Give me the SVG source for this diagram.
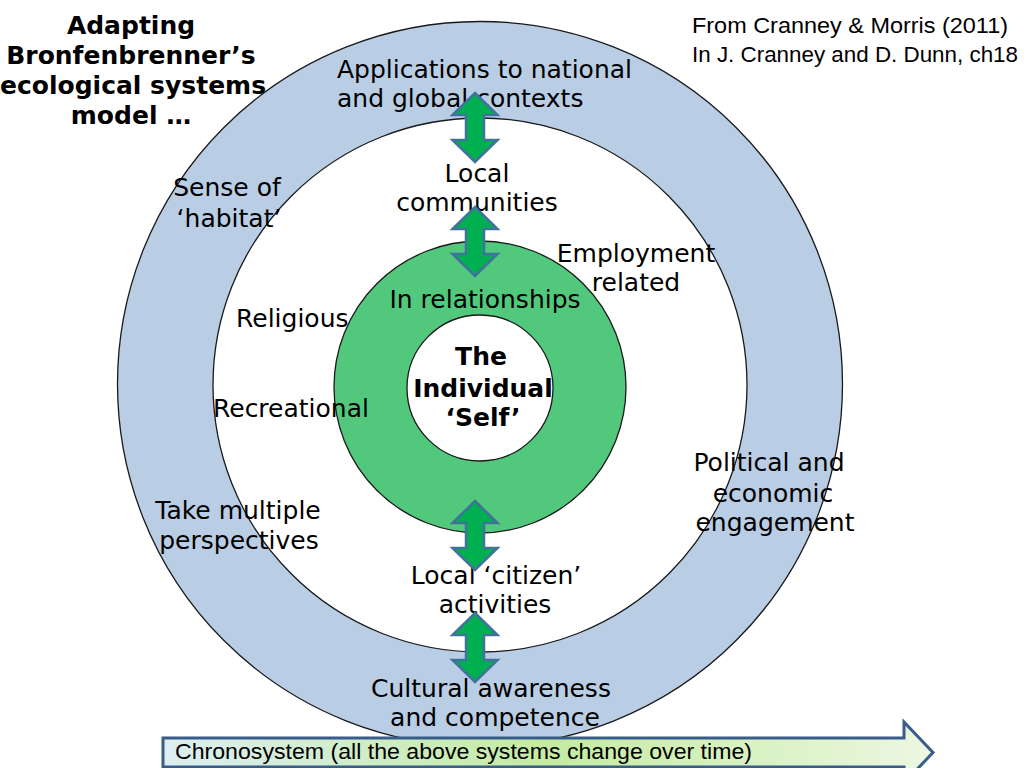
<svg xmlns="http://www.w3.org/2000/svg" xmlns:xlink="http://www.w3.org/1999/xlink" width="1024" height="768" viewBox="0 0 1024 768">
<style>
.lbl{font-family:"DejaVu Sans",Verdana,sans-serif;font-size:25px;fill:#000}
.b{font-weight:bold}
.m{text-anchor:middle}
.cal{font-family:"Liberation Sans",Arial,sans-serif;font-size:22px;fill:#000}
.ring{stroke:#1a1a1a;stroke-width:1.3}
.dbl{fill:#00B050;stroke:#41719C;stroke-width:2.5;stroke-linejoin:miter}
</style>
<defs>
<path id="dArrow" class="dbl" d="M0,0 L22.5,22 L9,22 L9,47 L22.5,47 L0,69 L-22.5,47 L-9,47 L-9,22 L-22.5,22 Z"/>
<linearGradient id="chronoGrad" x1="0" y1="0" x2="1" y2="0">
<stop offset="0" stop-color="#DCEFF2"/>
<stop offset="0.5" stop-color="#C4EBA0"/>
<stop offset="1" stop-color="#ECF7E2"/>
</linearGradient>
</defs>
<rect width="1024" height="768" fill="#ffffff"/>

<g id="macrosystem">
<circle class="ring" cx="480" cy="384" r="362.5" fill="#B9CDE5"/>
</g>
<g id="exosystem">
<circle class="ring" cx="480" cy="385" r="267" fill="#ffffff"/>
</g>
<g id="microsystem">
<circle class="ring" cx="480" cy="387" r="146" fill="#52C87D"/>
</g>
<g id="self">
<circle class="ring" cx="480" cy="388" r="73" fill="#ffffff"/>
</g>

<g id="title">
<text class="lbl b m" x="131" y="34">Adapting</text>
<text class="lbl b m" x="131" y="64">Bronfenbrenner’s</text>
<text class="lbl b m" x="133" y="94">ecological systems</text>
<text class="lbl b m" x="131" y="124">model …</text>
</g>

<g id="source">
<text class="cal" x="692" y="33" textLength="316" lengthAdjust="spacingAndGlyphs">From Cranney &amp; Morris (2011)</text>
<text class="cal" x="692" y="62" textLength="326" lengthAdjust="spacingAndGlyphs">In J. Cranney and D. Dunn, ch18</text>
</g>

<g id="labels">
<text class="lbl" x="337" y="78">Applications to national</text>
<text class="lbl" x="337" y="107">and global contexts</text>
<text class="lbl m" x="477" y="182">Local</text>
<text class="lbl m" x="477" y="211">communities</text>
<text class="lbl m" x="227" y="196">Sense of</text>
<text class="lbl m" x="229" y="227">‘habitat’</text>
<text class="lbl m" x="636" y="262">Employment</text>
<text class="lbl m" x="636" y="291">related</text>
<text class="lbl m" x="485" y="308">In relationships</text>
<text class="lbl" x="236" y="327">Religious</text>
<text class="lbl" x="213" y="417">Recreational</text>
<text class="lbl b m" x="481" y="365">The</text>
<text class="lbl b m" x="483" y="397">Individual</text>
<text class="lbl b m" x="483" y="426">‘Self’</text>
<text class="lbl m" x="769" y="471">Political and</text>
<text class="lbl m" x="773" y="502">economic</text>
<text class="lbl m" x="775" y="531">engagement</text>
<text class="lbl m" x="238" y="519">Take multiple</text>
<text class="lbl m" x="239" y="549">perspectives</text>
<text class="lbl m" x="496" y="584">Local ‘citizen’</text>
<text class="lbl m" x="495" y="613">activities</text>
<text class="lbl m" x="491" y="697">Cultural awareness</text>
<text class="lbl m" x="495" y="726">and competence</text>
</g>

<g id="connectors">
<use xlink:href="#dArrow" href="#dArrow" x="475" y="93"/>
<use xlink:href="#dArrow" href="#dArrow" x="475" y="207"/>
<use xlink:href="#dArrow" href="#dArrow" x="475" y="501"/>
<use xlink:href="#dArrow" href="#dArrow" x="475" y="613"/>
</g>

<g id="chronosystem">
<path d="M163,738 L904,738 L904,722 L933,752.5 L904,783 L904,767 L163,767 Z" fill="url(#chronoGrad)" stroke="#385D8A" stroke-width="3" stroke-linejoin="miter"/>
<text class="cal" x="175" y="759" textLength="577" lengthAdjust="spacingAndGlyphs">Chronosystem (all the above systems change over time)</text>
</g>
</svg>
